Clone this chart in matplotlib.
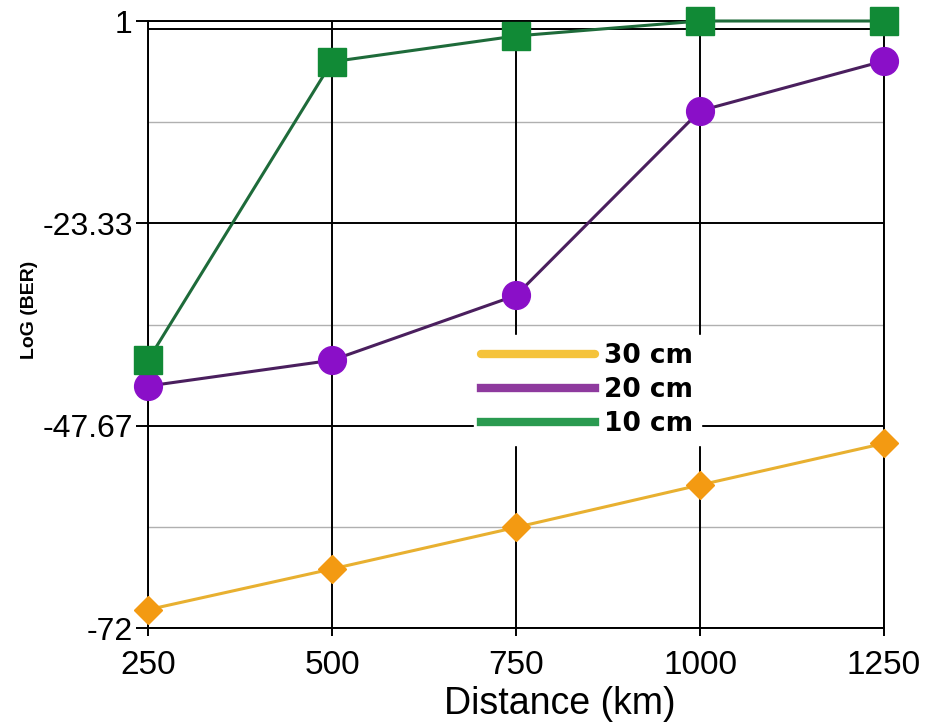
import matplotlib.pyplot as plt
import numpy as np

# data
distance = [250, 500, 750, 1000, 1250]
ber_10cm = [-39.8, -3.9, -0.8, 1.0, 1.0]
ber_20cm = [-42.9, -39.8, -32.0, -9.8, -3.8]
ber_30cm = [-69.8, -64.9, -59.9, -54.8, -49.8]
y_ticks = [1, -23.33, -47.67, -72]
y_tick_labels = ["1", "-23.33", "-47.67", "-72"]
legend_labels = ["30 cm", "20 cm", "10 cm"]

plt.rcParams["font.family"] = ["Liberation Sans", "DejaVu Sans"]

fig = plt.figure(figsize=(9.3, 7.22), dpi=100)
ax = fig.add_axes([148 / 930, 1 - 628 / 722, (884 - 148) / 930, (628 - 21) / 722])

ax.set_xlim(250, 1250)
ax.set_ylim(-72, 1)

# grid: black major lines, gray minor lines halfway between y ticks
for y in y_ticks:
    ax.axhline(y, color="black", lw=1.4, zorder=1)
for y in np.convolve(y_ticks, [0.5, 0.5], mode="valid"):
    ax.axhline(y, color="#b0b0b0", lw=1.0, zorder=1)
for x in distance:
    ax.axvline(x, color="black", lw=1.4, zorder=1)
ax.axhline(0.05, color="black", lw=1.4, zorder=1)

l30, = ax.plot(distance, ber_30cm, color="#E8B030", lw=2.2, marker="D",
               ms=14, mfc="#F39A12", mec="#F39A12", clip_on=False, zorder=3)
l20, = ax.plot(distance, ber_20cm, color="#4A1F5E", lw=2.2, marker="o",
               ms=20, mfc="#8A0FC8", mec="#8A0FC8", clip_on=False, zorder=3)
l10, = ax.plot(distance, ber_10cm, color="#1E6B3A", lw=2.2, marker="s",
               ms=20, mfc="#118A36", mec="#118A36", clip_on=False, zorder=3)

h30, = ax.plot([], [], color="#F5C33B", lw=6, solid_capstyle="round")
h20, = ax.plot([], [], color="#8E3A9E", lw=6)
h10, = ax.plot([], [], color="#2A9A50", lw=6)
leg = ax.legend([h30, h20, h10], legend_labels, loc="center",
                bbox_to_anchor=(0.597, 0.392),
                frameon=True, fancybox=False, edgecolor="white",
                facecolor="white", framealpha=1.0, handlelength=4.3,
                handletextpad=0.35, labelspacing=0.3, borderpad=0.3,
                prop={"family": "DejaVu Sans", "weight": "bold", "size": 19})
leg.set_zorder(4)

ax.set_xticks(distance)
ax.set_xticklabels([str(d) for d in distance])
ax.set_yticks(y_ticks)
ax.set_yticklabels(y_tick_labels)
ax.tick_params(axis="y", length=9, width=1.4, pad=2, labelsize=23)
ax.tick_params(axis="x", length=6, width=1.4, pad=10, labelsize=24)

for s in ax.spines.values():
    s.set_linewidth(1.4)
    s.set_color("black")

fig.text(560 / 930, 1 - 704 / 722, "Distance (km)", ha="center", va="center",
         fontsize=27)
fig.text(30 / 930, 1 - 310 / 722, "LoG (BER)", ha="center", va="center",
         rotation=90, fontsize=14, weight="bold")

fig.savefig("out.png", dpi=100, facecolor="white")
